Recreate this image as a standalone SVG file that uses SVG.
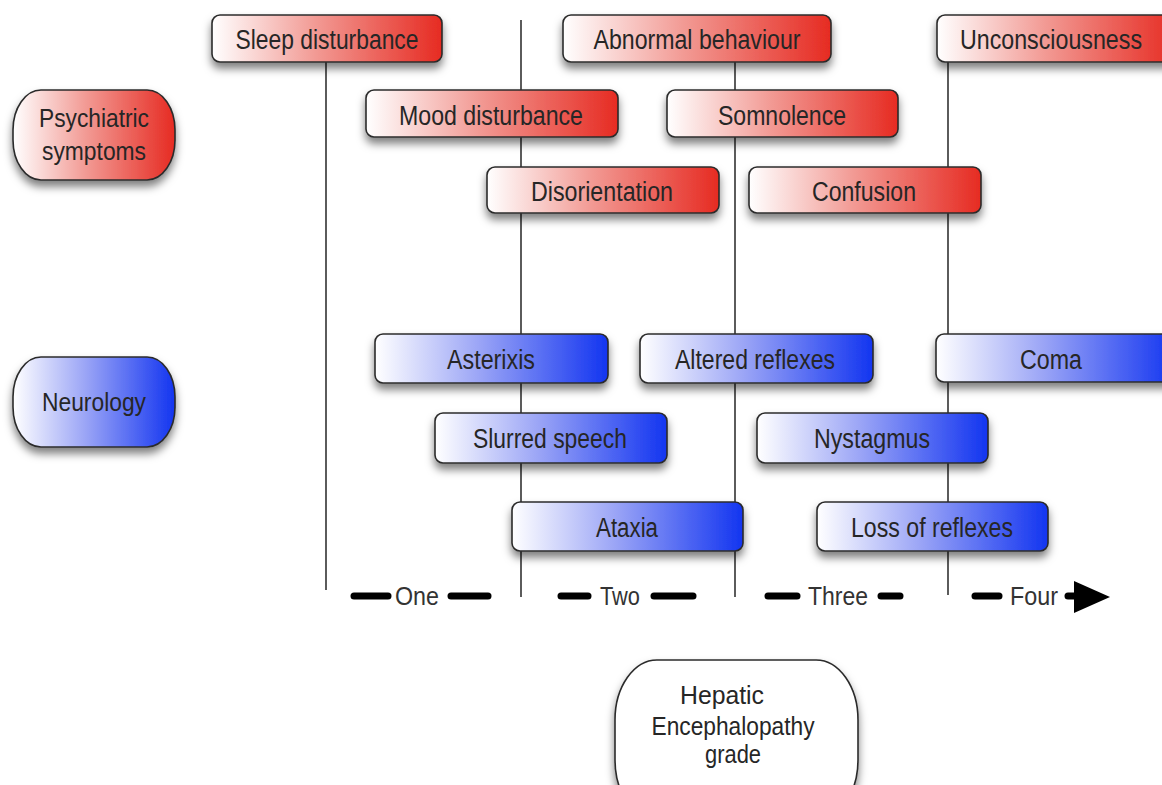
<svg xmlns="http://www.w3.org/2000/svg" width="1162" height="785" viewBox="0 0 1162 785">
<defs>
<linearGradient id="gr" x1="0" y1="0" x2="1" y2="0">
<stop offset="0" stop-color="#ffffff"/>
<stop offset="0.45" stop-color="#f29a94"/>
<stop offset="1" stop-color="#e62b22"/>
</linearGradient>
<linearGradient id="gb" x1="0" y1="0" x2="1" y2="0">
<stop offset="0" stop-color="#ffffff"/>
<stop offset="0.45" stop-color="#9aa4f6"/>
<stop offset="1" stop-color="#1335f0"/>
</linearGradient>
<filter id="sh" x="-10%" y="-30%" width="120%" height="180%">
<feDropShadow dx="0" dy="6" stdDeviation="4.5" flood-color="#000" flood-opacity="0.5"/>
</filter>
</defs>
<style>
.r{fill:url(#gr);stroke:#2b2b2b;stroke-width:1.6;filter:url(#sh)}
.b{fill:url(#gb);stroke:#2b2b2b;stroke-width:1.6;filter:url(#sh)}
.w{fill:#ffffff;stroke:#2b2b2b;stroke-width:1.6;filter:url(#sh)}
text{font-family:"Liberation Sans",Arial,sans-serif;font-size:27px;fill:#262626;text-anchor:middle}
.s{font-size:25px}
.h{font-size:26px}
.ax{font-size:25px;fill:#333}
.vl{stroke:#333;stroke-width:1.6;fill:none}
.dash{stroke:#000;stroke-width:7;stroke-linecap:round;fill:none}
</style>
<rect width="1162" height="785" fill="#ffffff"/>
<g id="connectors">
<line class="vl" x1="326" y1="60" x2="326" y2="590"/>
<line class="vl" x1="521" y1="20" x2="521" y2="597"/>
<line class="vl" x1="735" y1="60" x2="735" y2="597"/>
<line class="vl" x1="948" y1="60" x2="948" y2="595"/>
</g>
<g id="axis">
<line class="dash" x1="354" y1="596" x2="388" y2="596"/>
<text class="ax" x="417" y="605" textLength="44" lengthAdjust="spacingAndGlyphs">One</text>
<line class="dash" x1="451" y1="596" x2="488" y2="596"/>
<line class="dash" x1="561" y1="596" x2="588" y2="596"/>
<text class="ax" x="620" y="605" textLength="40" lengthAdjust="spacingAndGlyphs">Two</text>
<line class="dash" x1="654" y1="596" x2="693" y2="596"/>
<line class="dash" x1="768" y1="596" x2="797" y2="596"/>
<text class="ax" x="838" y="605" textLength="60" lengthAdjust="spacingAndGlyphs">Three</text>
<line class="dash" x1="881" y1="596" x2="900" y2="596"/>
<line class="dash" x1="975" y1="596" x2="999" y2="596"/>
<text class="ax" x="1034" y="605" textLength="48" lengthAdjust="spacingAndGlyphs">Four</text>
<line class="dash" x1="1068" y1="596" x2="1078" y2="596"/>
<polygon points="1074,581 1110,597 1074,613" fill="#000"/>
</g>
<g id="psychiatric">
<rect class="r" x="13" y="90" width="162" height="90" rx="28" ry="40"/>
<text class="s" x="94" y="127" textLength="110" lengthAdjust="spacingAndGlyphs">Psychiatric</text>
<text class="s" x="94" y="160" textLength="104" lengthAdjust="spacingAndGlyphs">symptoms</text>
</g>
<g id="neurology">
<rect class="b" x="13" y="357" width="162" height="90" rx="28" ry="40"/>
<text class="s" x="94" y="411" textLength="104" lengthAdjust="spacingAndGlyphs">Neurology</text>
</g>
<g id="grade">
<rect class="w" x="615" y="660" width="243" height="160" rx="42" ry="60"/>
<text class="h" x="722" y="704" textLength="84" lengthAdjust="spacingAndGlyphs">Hepatic</text>
<text class="h" x="733" y="735" textLength="163" lengthAdjust="spacingAndGlyphs">Encephalopathy</text>
<text class="h" x="733" y="763" textLength="56" lengthAdjust="spacingAndGlyphs">grade</text>
</g>
<g id="sleep">
<rect class="r" x="212" y="15" width="230" height="47" rx="8"/>
<text x="327" y="49" textLength="183" lengthAdjust="spacingAndGlyphs">Sleep disturbance</text>
</g>
<g id="abnormal">
<rect class="r" x="563" y="15" width="268" height="47" rx="8"/>
<text x="697" y="49" textLength="207" lengthAdjust="spacingAndGlyphs">Abnormal behaviour</text>
</g>
<g id="unconsciousness">
<rect class="r" x="937" y="15" width="240" height="47" rx="8"/>
<text x="1051" y="49" textLength="182" lengthAdjust="spacingAndGlyphs">Unconsciousness</text>
</g>
<g id="mood">
<rect class="r" x="366" y="90" width="252" height="47" rx="8"/>
<text x="491" y="125" textLength="184" lengthAdjust="spacingAndGlyphs">Mood disturbance</text>
</g>
<g id="somnolence">
<rect class="r" x="667" y="90" width="231" height="47" rx="8"/>
<text x="782" y="125" textLength="128" lengthAdjust="spacingAndGlyphs">Somnolence</text>
</g>
<g id="disorientation">
<rect class="r" x="487" y="167" width="232" height="46" rx="8"/>
<text x="602" y="201" textLength="142" lengthAdjust="spacingAndGlyphs">Disorientation</text>
</g>
<g id="confusion">
<rect class="r" x="749" y="167" width="232" height="46" rx="8"/>
<text x="864" y="201" textLength="104" lengthAdjust="spacingAndGlyphs">Confusion</text>
</g>
<g id="asterixis">
<rect class="b" x="375" y="334" width="233" height="49" rx="8"/>
<text x="491" y="369" textLength="88" lengthAdjust="spacingAndGlyphs">Asterixis</text>
</g>
<g id="altered">
<rect class="b" x="640" y="334" width="233" height="49" rx="8"/>
<text x="755" y="369" textLength="160" lengthAdjust="spacingAndGlyphs">Altered reflexes</text>
</g>
<g id="coma">
<rect class="b" x="936" y="334" width="240" height="48" rx="8"/>
<text x="1051" y="369" textLength="62" lengthAdjust="spacingAndGlyphs">Coma</text>
</g>
<g id="slurred">
<rect class="b" x="435" y="413" width="232" height="50" rx="8"/>
<text x="550" y="448" textLength="154" lengthAdjust="spacingAndGlyphs">Slurred speech</text>
</g>
<g id="nystagmus">
<rect class="b" x="757" y="413" width="231" height="50" rx="8"/>
<text x="872" y="448" textLength="116" lengthAdjust="spacingAndGlyphs">Nystagmus</text>
</g>
<g id="ataxia">
<rect class="b" x="512" y="502" width="231" height="49" rx="8"/>
<text x="627" y="537" textLength="62" lengthAdjust="spacingAndGlyphs">Ataxia</text>
</g>
<g id="loss">
<rect class="b" x="817" y="502" width="231" height="49" rx="8"/>
<text x="932" y="537" textLength="162" lengthAdjust="spacingAndGlyphs">Loss of reflexes</text>
</g>
</svg>
